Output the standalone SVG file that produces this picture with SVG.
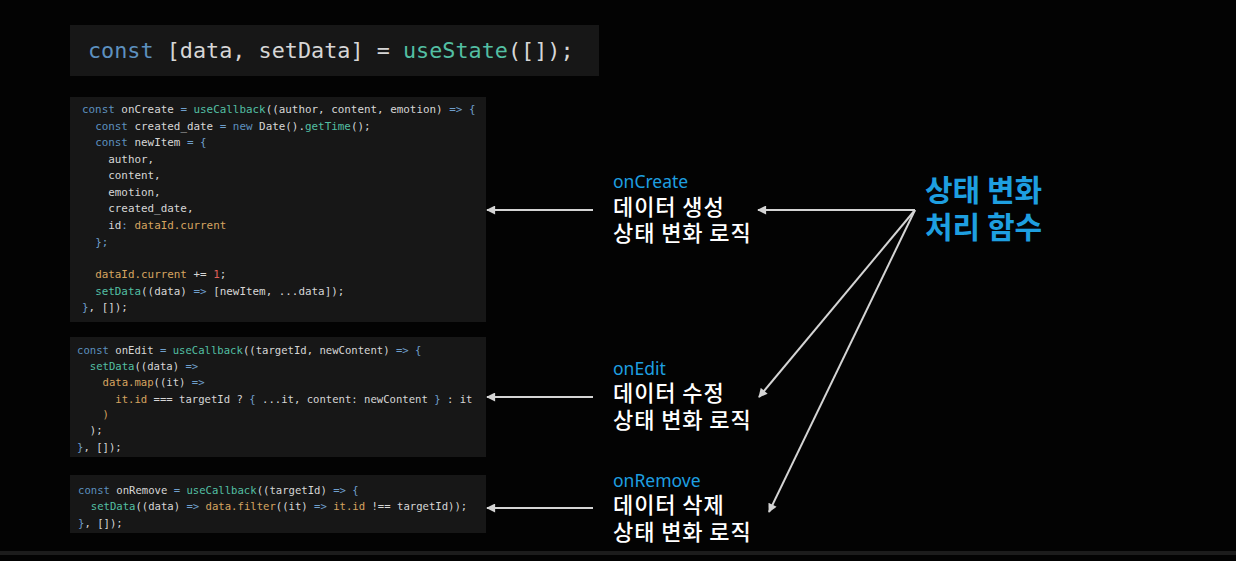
<svg xmlns="http://www.w3.org/2000/svg" width="1236" height="561" viewBox="0 0 1236 561">
<defs>
<style>
.bg{fill:#030303}
.box{fill:#171717}
.code{font-family:"DejaVu Sans Mono","Liberation Mono",monospace;fill:#d6d6d6;white-space:pre}
.c2{font-size:10.9px}
.c3{font-size:10.6px}
.kw{fill:#5d90bf}
.p{fill:#6f9fcc}
.fn{fill:#53bfa3}
.v{fill:#d6a460}
.n{fill:#e0605a}
.lbl{font-family:"Noto Sans","Noto Sans CJK KR",sans-serif;font-size:17.5px;fill:#1e9fe0}
.kr{font-family:"Noto Sans CJK KR","Noto Sans",sans-serif;font-size:22px;letter-spacing:0.9px;fill:#ffffff;font-weight:500}
.big{font-family:"Noto Sans CJK KR","Noto Sans",sans-serif;font-size:30px;fill:#1e9fe0;font-weight:600}
.ar{stroke:#d4d4d4;stroke-width:2;fill:none;marker-end:url(#ah)}
</style>
<marker id="ah" viewBox="0 0 10 10" refX="9" refY="5" markerWidth="10" markerHeight="9" markerUnits="userSpaceOnUse" orient="auto">
<path d="M0,0 L10,5 L0,10 z" fill="#d4d4d4"/>
</marker>
</defs>
<rect class="bg" x="0" y="0" width="1236" height="561"/>
<rect x="0" y="551" width="1236" height="4" fill="#1c1c1c"/>

<g id="state-decl">
<rect class="box" x="70" y="25" width="529" height="51" fill="#181818"/>
<text class="code" x="88" y="58" style="font-size:21.8px" xml:space="preserve"><tspan class="kw">const</tspan> [data, setData] = <tspan class="fn">useState</tspan>([]);</text>
</g>

<g id="onCreate-code" xml:space="preserve">
<rect class="box" x="70" y="97" width="416" height="225"/>
<text class="code c2" x="82" y="113"><tspan class="kw">const</tspan> onCreate <tspan class="p">=</tspan> <tspan class="fn">useCallback</tspan>((author, content, emotion) <tspan class="p">=&gt;</tspan> <tspan class="p">{</tspan></text>
<text class="code c2" x="82" y="130">  <tspan class="kw">const</tspan> created_date <tspan class="p">=</tspan> <tspan class="kw">new</tspan> Date().<tspan class="fn">getTime</tspan>();</text>
<text class="code c2" x="82" y="146">  <tspan class="kw">const</tspan> newItem <tspan class="p">=</tspan> <tspan class="p">{</tspan></text>
<text class="code c2" x="82" y="163">    author,</text>
<text class="code c2" x="82" y="179">    content,</text>
<text class="code c2" x="82" y="196">    emotion,</text>
<text class="code c2" x="82" y="212">    created_date,</text>
<text class="code c2" x="82" y="229">    id<tspan class="p">:</tspan> <tspan class="v">dataId.current</tspan></text>
<text class="code c2" x="82" y="246">  <tspan class="p">};</tspan></text>
<text class="code c2" x="82" y="278">  <tspan class="v">dataId.current</tspan> += <tspan class="n">1</tspan>;</text>
<text class="code c2" x="82" y="295">  <tspan class="fn">setData</tspan>((data) <tspan class="p">=&gt;</tspan> [newItem, ...data]);</text>
<text class="code c2" x="82" y="311"><tspan class="p">}</tspan>, []);</text>
</g>

<g id="onEdit-code" xml:space="preserve">
<rect class="box" x="70" y="337" width="416" height="120"/>
<text class="code c3" x="77" y="354"><tspan class="kw">const</tspan> onEdit <tspan class="p">=</tspan> <tspan class="fn">useCallback</tspan>((targetId, newContent) <tspan class="p">=&gt;</tspan> <tspan class="p">{</tspan></text>
<text class="code c3" x="77" y="370">  <tspan class="fn">setData</tspan>((data) <tspan class="p">=&gt;</tspan></text>
<text class="code c3" x="77" y="386">    <tspan class="v">data.map</tspan>((it) <tspan class="p">=&gt;</tspan></text>
<text class="code c3" x="77" y="403">      <tspan class="v">it.id</tspan> === targetId ? <tspan class="p">{</tspan> ...it, content: newContent <tspan class="p">}</tspan> : it</text>
<text class="code c3" x="77" y="418">    <tspan class="v">)</tspan></text>
<text class="code c3" x="77" y="434">  );</text>
<text class="code c3" x="77" y="451"><tspan class="p">}</tspan>, []);</text>
</g>

<g id="onRemove-code" xml:space="preserve">
<rect class="box" x="70" y="475" width="416" height="58"/>
<text class="code c3" x="78" y="494"><tspan class="kw">const</tspan> onRemove <tspan class="p">=</tspan> <tspan class="fn">useCallback</tspan>((targetId) <tspan class="p">=&gt;</tspan> <tspan class="p">{</tspan></text>
<text class="code c3" x="78" y="510">  <tspan class="fn">setData</tspan>((data) <tspan class="p">=&gt;</tspan> <tspan class="v">data.filter</tspan>((it) <tspan class="p">=&gt;</tspan> <tspan class="v">it.id</tspan> !== targetId));</text>
<text class="code c3" x="78" y="527"><tspan class="p">}</tspan>, []);</text>
</g>

<g id="label-create">
<text class="lbl" x="613" y="188">onCreate</text>
<text class="kr" x="613" y="215">데이터 생성</text>
<text class="kr" x="613" y="241">상태 변화 로직</text>
</g>
<g id="label-edit">
<text class="lbl" x="613" y="375">onEdit</text>
<text class="kr" x="613" y="401">데이터 수정</text>
<text class="kr" x="613" y="428">상태 변화 로직</text>
</g>
<g id="label-remove">
<text class="lbl" x="613" y="487">onRemove</text>
<text class="kr" x="613" y="513">데이터 삭제</text>
<text class="kr" x="613" y="540">상태 변화 로직</text>
</g>
<g id="title">
<text class="big" x="925" y="201">상태 변화</text>
<text class="big" x="925" y="238">처리 함수</text>
</g>

<g id="connectors">
<line class="ar" x1="593" y1="210" x2="487" y2="210"/>
<line class="ar" x1="593" y1="397" x2="487" y2="397"/>
<line class="ar" x1="593" y1="508" x2="487" y2="508"/>
<line class="ar" x1="915" y1="210" x2="758" y2="210"/>
<line class="ar" x1="915" y1="210" x2="759" y2="397"/>
<line class="ar" x1="915" y1="210" x2="769" y2="512"/>
</g>
</svg>
